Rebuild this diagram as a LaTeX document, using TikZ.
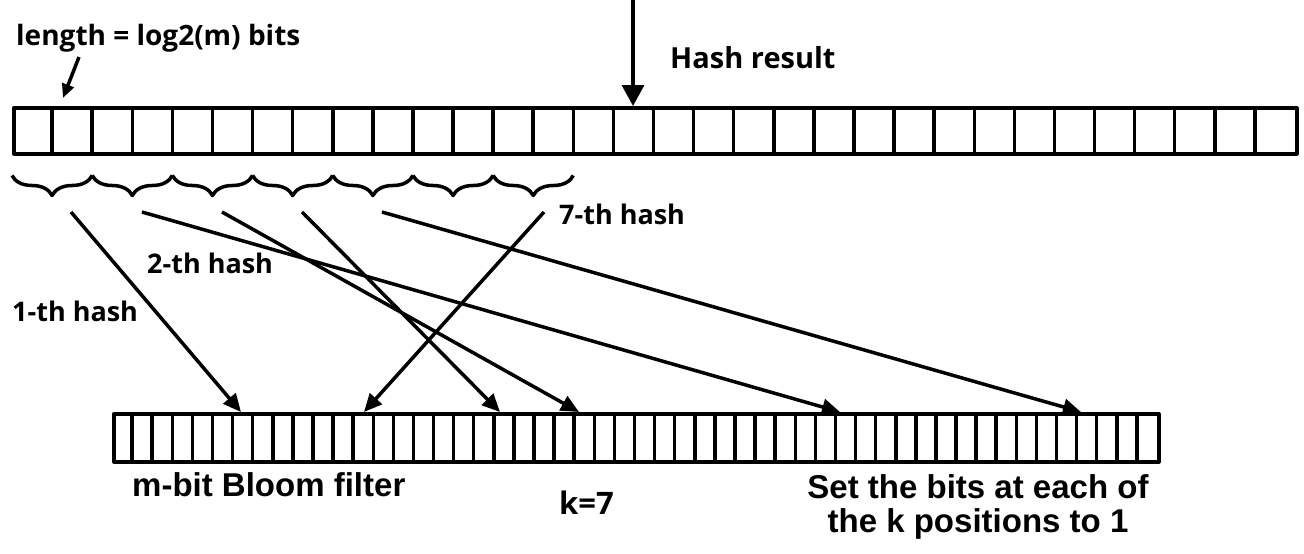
\documentclass[tikz,border=0pt]{standalone}
\usepackage{fontspec}
\setmainfont{Open Sans}
\newfontfamily\yh{Open Sans}
\newfontfamily\arl{Liberation Sans}
\usetikzlibrary{arrows.meta,decorations.pathreplacing,calc}
\begin{document}
\begin{tikzpicture}[x=1pt,y=-1pt,line join=round]
\tikzset{
  bar/.style={draw, line width=3.5pt, inner sep=0pt, anchor=north west},
  cell/.style={line width=3.5pt},
  arr/.style={line width=3.5pt, -{Triangle[length=18pt,width=16pt]}},
  brc/.style={line width=3.5pt, decorate, decoration={brace, mirror, amplitude=20pt}},
  lbl/.style={inner sep=0pt, anchor=base west, font=\yh\bfseries\fontsize{27}{30}\selectfont},
  albl/.style={inner sep=0pt, font=\arl\bfseries\fontsize{33}{34}\selectfont},
}
\useasboundingbox (0,0) rectangle (1304,554);
\fill[white] (0,0) rectangle (1304,554);

% top bar: 32 cells
\node[bar, minimum width=1283pt, minimum height=46pt] (top) at (12,106) {};
\foreach \i in {1,...,31}
  \draw[cell] ($(top.north west)+(\i*40.094,0)$) -- ++(0,46);

% bottom bar: 52 cells
\node[bar, minimum width=1045pt, minimum height=48pt] (bot) at (112,412) {};
\foreach \i in {1,...,51}
  \draw[cell] ($(bot.north west)+(\i*20.096,0)$) -- ++(0,48);

% braces
\foreach \i in {0,...,6}
  \draw[brc] ($(top.south west)+(\i*80.19,20)$) -- ++(80.19,0);

% hash result arrow
\coordinate (h0) at (633,0);
\coordinate (h1) at (633,106);
\draw[line width=3.5pt, -{Triangle[length=21pt,width=22pt]}] (h0) -- (h1);

% length arrow
\coordinate (l0) at (79,57);
\coordinate (l1) at (63,98);
\draw[line width=3.5pt, -{Triangle[length=14pt,width=12pt]}] (l0) -- (l1);

% hash arrows
\coordinate (s1) at (71,212);
\coordinate (s2) at (142,212);
\coordinate (s3) at (222,212);
\coordinate (s4) at (302,212);
\coordinate (s5) at (382,212);
\coordinate (s7) at (544,212);
\coordinate (t1) at (241,412);
\coordinate (t2) at (364,412);
\coordinate (t3) at (500,412);
\coordinate (t4) at (579,412);
\coordinate (t5) at (840,412);
\coordinate (t6) at (1081,412);
\draw[arr] (s1) -- (t1);
\draw[arr] (s2) -- (t5);
\draw[arr] (s3) -- (t4);
\draw[arr] (s4) -- (t3);
\draw[arr] (s5) -- (t6);
\draw[arr] (s7) -- (t2);

% labels
\node[lbl, font=\yh\bfseries\fontsize{28}{32}\selectfont] (len) at (16,45) {length = log2(m) bits};
\node[lbl, font=\yh\bfseries\fontsize{29}{34}\selectfont] (hr) at (670,68) {Hash result};
\node[lbl] (h7) at (559,224) {7-th hash};
\node[lbl] (h2) at (147,273) {2-th hash};
\node[lbl] (h1l) at (12,321) {1-th hash};
\node[lbl, font=\yh\bfseries\fontsize{31}{34}\selectfont] (k) at (559,514) {k=7};
\node[albl, anchor=base west] (mb) at (132,496) {m-bit Bloom filter};
\node[albl, anchor=base, align=center] (set) at (978,532) {Set the bits at each of\\the k positions to 1};
\end{tikzpicture}
\end{document}
